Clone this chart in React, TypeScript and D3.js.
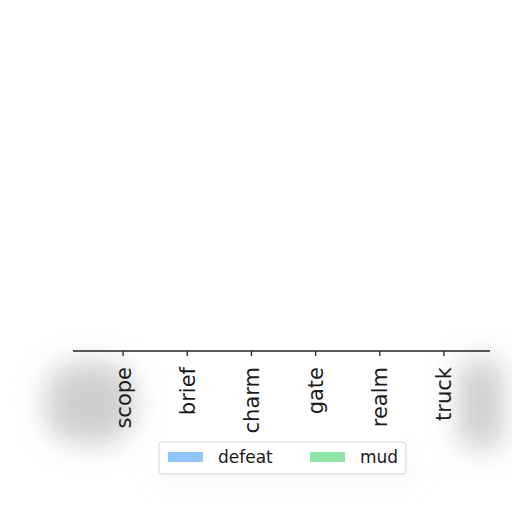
import { useEffect, useRef } from 'react';
import * as d3 from 'd3';

const categories = ['scope', 'brief', 'charm', 'gate', 'realm', 'truck'];
const seriesNames = ['defeat', 'mud'];
const defeatValues = [0, 0, 0, 0, 0, 0];
const mudValues = [0, 0, 0, 0, 0, 0];
const seriesColors = ['#92c5f9', '#90e6a6'];

const FONT = '"DejaVu Sans", sans-serif';

export default function App() {
  const svgRef = useRef<SVGSVGElement>(null);

  useEffect(() => {
    if (!svgRef.current) return;
    const svg = d3.select(svgRef.current);
    svg.selectAll('*').remove();

    const width = 512;
    const height = 512;
    const axisY = 351;

    // soft grey smudges around the axis area
    const defs = svg.append('defs');
    defs.append('filter')
      .attr('id', 'smudge')
      .attr('x', '-50%').attr('y', '-50%')
      .attr('width', '200%').attr('height', '200%')
      .append('feGaussianBlur')
      .attr('stdDeviation', 14);

    svg.append('rect').attr('width', width).attr('height', height).attr('fill', '#fff');

    const smudges = svg.append('g').attr('filter', 'url(#smudge)');
    smudges.append('rect')
      .attr('x', 45).attr('y', 362).attr('width', 90).attr('height', 82)
      .attr('rx', 35).attr('fill', '#cfcfcf');
    smudges.append('rect')
      .attr('x', 458).attr('y', 358).attr('width', 46).attr('height', 92)
      .attr('rx', 20).attr('fill', '#cfcfcf');
    smudges.append('rect')
      .attr('x', 160).attr('y', 466).attr('width', 250).attr('height', 8)
      .attr('fill', '#e2e2e2');

    const x = d3.scaleBand<string>()
      .domain(categories)
      .range([91, 476])
      .padding(0);

    const y = d3.scaleLinear().domain([0, 1]).range([axisY, 20]);

    const rows = categories.map((c, i) => ({ cat: c, defeat: defeatValues[i], mud: mudValues[i] }));
    const stack = d3.stack<any>().keys(seriesNames)(rows);

    const barW = x.bandwidth() * 0.8;
    svg.append('g')
      .selectAll('g')
      .data(stack)
      .join('g')
      .attr('fill', (_, i) => seriesColors[i])
      .selectAll('rect')
      .data(d => d)
      .join('rect')
      .attr('x', d => (x(d.data.cat) || 0) + (x.bandwidth() - barW) / 2)
      .attr('y', d => y(d[1]))
      .attr('width', barW)
      .attr('height', d => y(d[0]) - y(d[1]));

    // x axis
    const axis = svg.append('g')
      .attr('transform', `translate(0, ${axisY})`)
      .call(d3.axisBottom(x).tickSizeOuter(0).tickSize(5).tickPadding(12));
    axis.select('.domain').remove();
    axis.append('line')
      .attr('x1', 73).attr('x2', 490)
      .attr('stroke', '#222').attr('stroke-width', 1.3);
    axis.selectAll('.tick line').attr('stroke', '#222').attr('stroke-width', 1.3);
    axis.selectAll('.tick text')
      .attr('transform', 'rotate(-90)')
      .attr('text-anchor', 'end')
      .attr('x', -16)
      .attr('y', 0)
      .attr('dy', '0.36em')
      .attr('fill', '#1a1a1a')
      .attr('font-size', 21)
      .attr('font-family', FONT);

    // legend
    const legend = svg.append('g');
    legend.append('rect')
      .attr('x', 159).attr('y', 442).attr('width', 247).attr('height', 32)
      .attr('rx', 3).attr('fill', '#fff').attr('stroke', '#d6d6d6');
    const legendX = [168, 310];
    seriesNames.forEach((name, i) => {
      legend.append('rect')
        .attr('x', legendX[i]).attr('y', 452).attr('width', 35).attr('height', 10)
        .attr('fill', seriesColors[i]);
      legend.append('text')
        .attr('x', legendX[i] + 50).attr('y', 463)
        .attr('font-size', 17)
        .attr('font-family', FONT)
        .attr('fill', '#1a1a1a')
        .text(name);
    });
  }, []);

  return (
    <svg
      ref={svgRef}
      width={512}
      height={512}
      style={{ position: 'absolute', left: 0, top: 0, display: 'block' }}
    />
  );
}
